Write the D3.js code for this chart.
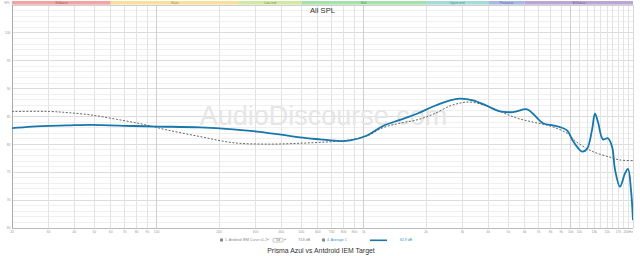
<!DOCTYPE html>
<html>
<head>
<meta charset="utf-8">
<script src="https://cdn.jsdelivr.net/npm/d3@7"></script>
<style>
  body { margin: 0; background: #fff; }
  svg { display: block; font-family: "Liberation Sans", Arial, sans-serif; }
</style>
</head>
<body>
<div id="chart"></div>
<script>
// measured curve (Prisma Azul), [Hz, dB]
var azul = [
  [20, 82.9], [25, 83.2], [37, 83.4], [48, 83.5], [77, 83.3], [100, 83.2],
  [162, 83.05], [234, 82.7], [305, 82.3], [408, 81.7], [492, 81.25], [615, 80.9],
  [769, 80.6], [859, 80.7], [1038, 81.6], [1240, 83.3], [1498, 84.4], [1810, 85.5],
  [2163, 86.8], [2612, 87.9], [2918, 88.2], [3374, 87.9], [3944, 86.9], [4554, 85.9],
  [5260, 85.8], [6152, 86.3], [6576, 85.5], [7348, 83.8], [8218, 83.4], [8878, 83.1],
  [9600, 82.5], [10260, 80.6], [10720, 79.6], [11340, 78.7], [11990, 79.2], [12680, 82.6],
  [13100, 85.5], [13550, 84.0], [14320, 80.9], [15140, 81.1], [15840, 79.6], [16370, 75.5],
  [17300, 72.4], [18300, 74.8], [18920, 75.6], [19560, 71.8], [20000, 66.4]
];

// target curve (Antdroid IEM Curve v1.2), [Hz, dB]
var target = [
  [20, 85.9], [30.5, 85.9], [37, 85.7], [47.6, 85.3], [64, 84.5], [86, 83.6],
  [112, 82.6], [162, 81.4], [234, 80.3], [341, 80.05], [492, 80.2], [711, 80.5],
  [859, 80.8], [1038, 81.5], [1240, 83.0], [1498, 83.8], [1810, 84.4], [2163, 85.4],
  [2612, 86.9], [2918, 87.4], [3264, 87.6], [3770, 87.1], [4554, 85.9], [5502, 84.7],
  [6576, 84.0], [7943, 83.3], [9600, 82.0], [10700, 80.4], [12800, 78.7], [15500, 77.7],
  [17300, 77.2], [20000, 77.1]
];

// frequency bands across the top
var bandNames = ["Subbass", "Bass", "Low mid", "Mid", "Upper mid", "Presence", "Brilliance"];
var bandEdges = [20, 60, 250, 500, 2000, 4000, 6000, 20000];
var bandFill = ["#f4a3a3", "#f7e09c", "#d2e9a2", "#a6e0aa", "#a5dcd8", "#a9b9e4", "#baa6d4"];
var bandText = ["#b55", "#a98a3a", "#7d9a45", "#4f9a55", "#4c9a96", "#5a6eaa", "#7a5fa0"];

// axes
var xTicks = [20, 30, 40, 50, 60, 70, 80, 90, 100, 200, 300, 400, 500, 600, 700, 800, 900,
  1000, 2000, 3000, 4000, 5000, 6000, 7000, 8000, 9000, 10000, 11000, 13000, 15000, 17000, 20000];
var xTickLabels = ["20", "30", "40", "50", "60", "70", "80", "90", "100", "200", "300", "400",
  "500", "600", "700", "800", "900", "1k", "2k", "3k", "4k", "5k", "6k", "7k", "8k", "9k",
  "10k", "11k", "13k", "15k", "17k", "20kHz"];
var xGrid = [20, 30, 40, 50, 60, 70, 80, 90, 100, 200, 300, 400, 500, 600, 700, 800, 900,
  1000, 2000, 3000, 4000, 5000, 6000, 7000, 8000, 9000, 10000, 11000, 12000, 13000, 14000,
  15000, 16000, 17000, 18000, 19000, 20000];
var yTicks = [65, 70, 75, 80, 85, 90, 95, 100];

var W = 640, H = 256;
var margin = {top: 5, right: 7, bottom: 28, left: 12},
    width = W - margin.left - margin.right,
    height = H - margin.top - margin.bottom;

var x = d3.scaleLog().domain([20, 20000]).range([0, width]);
var y = d3.scaleLinear().domain([65, 105]).range([height, 0]);

var svg = d3.select("#chart").append("svg")
    .attr("width", W)
    .attr("height", H);

var g = svg.append("g")
    .attr("transform", "translate(" + margin.left + "," + margin.top + ")");

// minor horizontal grid (every dB)
g.append("g").selectAll("line")
    .data(d3.range(65, 106))
    .enter().append("line")
    .attr("x1", 0).attr("x2", width)
    .attr("y1", function(d) { return y(d); })
    .attr("y2", function(d) { return y(d); })
    .attr("stroke", function(d) { return d % 5 === 0 ? "#dcdcdc" : "#f0f0f0"; })
    .attr("stroke-width", 1)
    .attr("shape-rendering", "crispEdges");

// vertical grid
g.append("g").selectAll("line")
    .data(xGrid)
    .enter().append("line")
    .attr("x1", function(d) { return x(d); })
    .attr("x2", function(d) { return x(d); })
    .attr("y1", 0).attr("y2", height)
    .attr("stroke", function(d) { return (d === 100 || d === 1000 || d === 10000) ? "#cfcfcf" : "#e3e3e3"; })
    .attr("shape-rendering", "crispEdges");

// watermark
g.append("text")
    .attr("x", width / 2 + 1)
    .attr("y", 120)
    .attr("text-anchor", "middle")
    .style("font-size", "27px")
    .attr("fill", "#e6e6e6")
    .text("AudioDiscourse.com");

// bands
var bands = g.append("g");
bandNames.forEach(function(name, i) {
  var x0 = x(bandEdges[i]), x1 = x(bandEdges[i + 1]);
  bands.append("rect")
      .attr("x", x0).attr("y", -4)
      .attr("width", x1 - x0).attr("height", 3.6)
      .attr("fill", bandFill[i]);
  bands.append("text")
      .attr("x", (x0 + x1) / 2).attr("y", -1.2)
      .attr("text-anchor", "middle")
      .style("font-size", "3.2px")
      .attr("fill", bandText[i])
      .text(name);
});

// plot frame
g.append("line").attr("x1", 0).attr("x2", width).attr("y1", 0).attr("y2", 0)
    .attr("stroke", "#cfcfcf").attr("shape-rendering", "crispEdges");
g.append("line").attr("x1", width).attr("x2", width).attr("y1", 0).attr("y2", height)
    .attr("stroke", "#d8d8d8").attr("shape-rendering", "crispEdges");
g.append("line").attr("x1", 0).attr("x2", 0).attr("y1", 0).attr("y2", height)
    .attr("stroke", "#aaa").attr("shape-rendering", "crispEdges");
g.append("line").attr("x1", 0).attr("x2", width).attr("y1", height).attr("y2", height)
    .attr("stroke", "#bbb").attr("shape-rendering", "crispEdges");

// y labels
g.append("g").selectAll("text")
    .data(yTicks)
    .enter().append("text")
    .attr("x", -1.5)
    .attr("y", function(d) { return y(d) + 1.2; })
    .attr("text-anchor", "end")
    .style("font-size", "3.4px")
    .attr("fill", "#999")
    .text(function(d) { return d; });
g.append("text")
    .attr("x", -1.5).attr("y", -1.5)
    .attr("text-anchor", "end")
    .style("font-size", "3.4px")
    .attr("fill", "#999")
    .text("SPL");

// x labels
g.append("g").selectAll("text")
    .data(xTicks)
    .enter().append("text")
    .attr("x", function(d) { return x(d); })
    .attr("y", height + 5)
    .attr("text-anchor", function(d) { return d === 20000 ? "end" : "middle"; })
    .style("font-size", "3.4px")
    .attr("fill", "#999")
    .text(function(d, i) { return xTickLabels[i]; });

// lines
g.append("clipPath").attr("id", "clip")
  .append("rect").attr("width", width).attr("height", height);

var line = d3.line()
    .x(function(d) { return x(d[0]); })
    .y(function(d) { return y(d[1]); })
    .curve(d3.curveCatmullRom.alpha(0.5));

g.append("path")
    .datum(target)
    .attr("clip-path", "url(#clip)")
    .attr("fill", "none")
    .attr("stroke", "#555")
    .attr("stroke-width", 0.9)
    .attr("stroke-dasharray", "2,1.6")
    .attr("d", line);

g.append("path")
    .datum(azul)
    .attr("clip-path", "url(#clip)")
    .attr("fill", "none")
    .attr("stroke", "#1577ab")
    .attr("stroke-width", 1.8)
    .attr("d", line);

// title
svg.append("text")
    .attr("x", margin.left + width / 2)
    .attr("y", 13)
    .attr("text-anchor", "middle")
    .style("font-size", "7.6px")
    .attr("fill", "#333")
    .text("All SPL");

// legend
var lg = svg.append("g").style("font-size", "3.5px");
lg.append("rect").attr("x", 220).attr("y", 238.5).attr("width", 3).attr("height", 3)
    .attr("fill", "#888");
lg.append("text").attr("x", 225).attr("y", 241.2).attr("fill", "#888")
    .text("1. Antdroid IEM Curve v1.2");
lg.append("text").attr("x", 267).attr("y", 241.2).attr("fill", "#666").text("«");
lg.append("rect").attr("x", 273).attr("y", 238.3).attr("width", 10).attr("height", 3.8)
    .attr("fill", "#fff").attr("stroke", "#777").attr("stroke-width", 0.4).attr("rx", 0.8);
lg.append("text").attr("x", 278).attr("y", 241.2).attr("text-anchor", "middle")
    .attr("fill", "#777").text("5d");
lg.append("text").attr("x", 284).attr("y", 241.2).attr("fill", "#666").text("»");
lg.append("text").attr("x", 298).attr("y", 241.2).attr("fill", "#888").text("74.8 dB");
lg.append("rect").attr("x", 322).attr("y", 238.5).attr("width", 3).attr("height", 3)
    .attr("fill", "#888");
lg.append("text").attr("x", 327).attr("y", 241.2).attr("fill", "#3b8fc4").text("4. Average 1");
lg.append("line").attr("x1", 370).attr("x2", 387).attr("y1", 240.3).attr("y2", 240.3)
    .attr("stroke", "#1577ab").attr("stroke-width", 1.6);
lg.append("text").attr("x", 400).attr("y", 241.2).attr("fill", "#3b8fc4").text("82.9 dB");

svg.append("text")
    .attr("x", 321)
    .attr("y", 253)
    .attr("text-anchor", "middle")
    .style("font-size", "6.9px")
    .attr("fill", "#333")
    .text("Prisma Azul vs Antdroid IEM Target");
</script>
</body>
</html>
